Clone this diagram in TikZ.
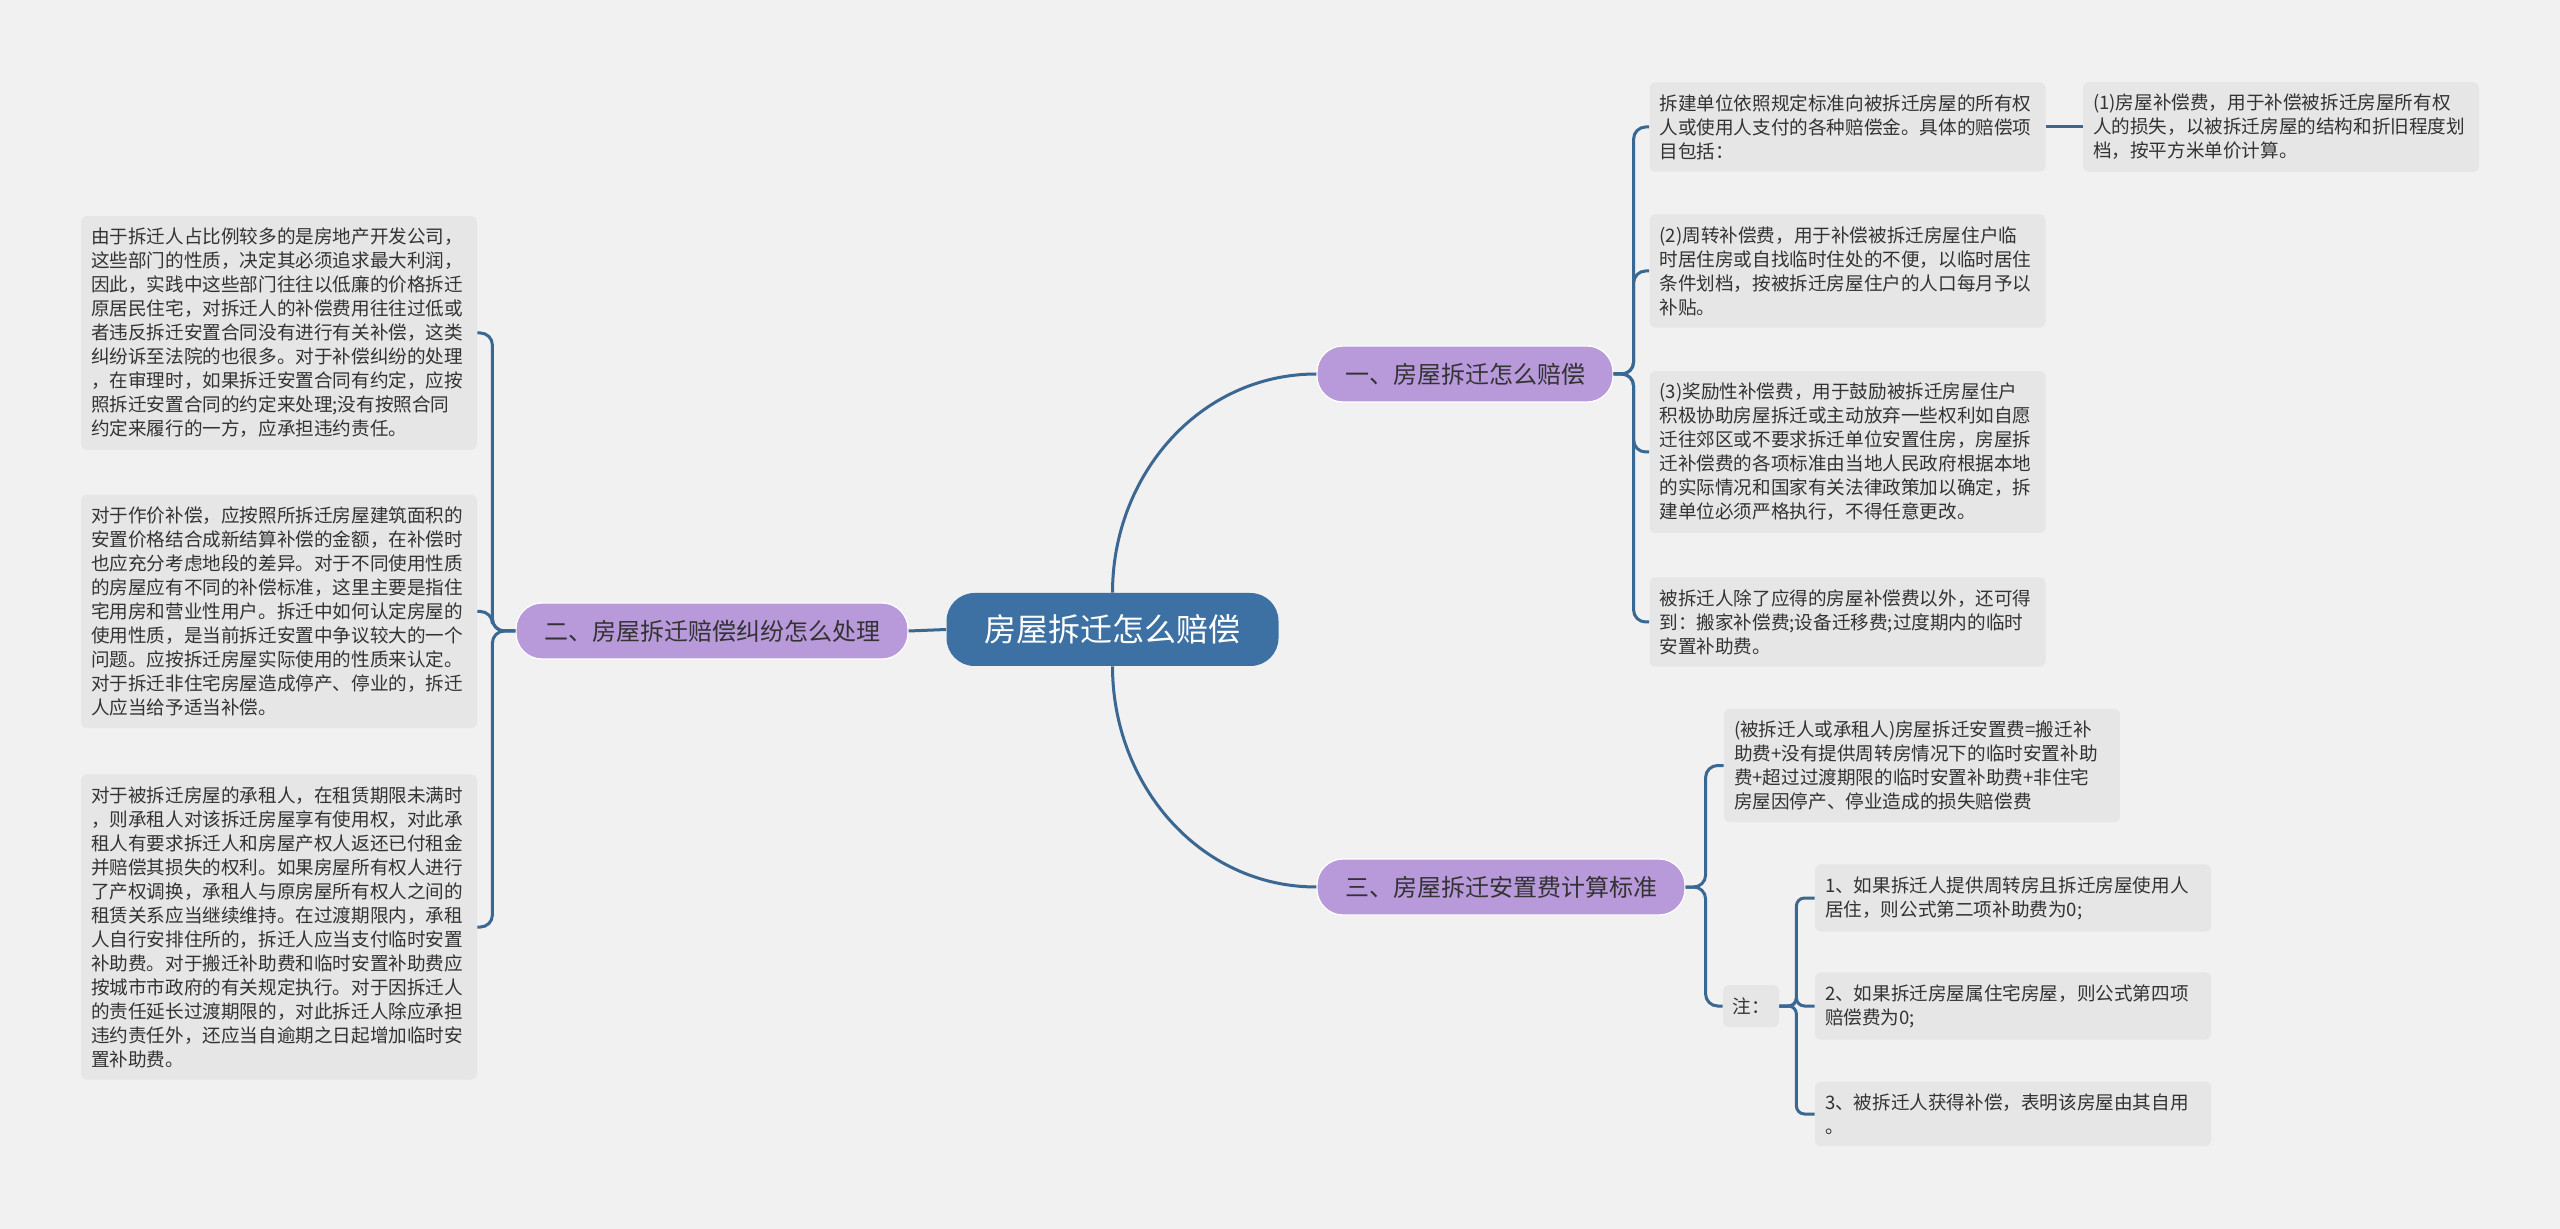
\documentclass[tikz,border=0pt]{standalone}
\usepackage{fontspec}
\setmainfont{Noto Sans CJK SC}
\usetikzlibrary{positioning}
\usepackage{xcolor}
\definecolor{bg}{HTML}{F1F1F1}
\definecolor{rootblue}{HTML}{3E71A3}
\definecolor{topicpurple}{HTML}{B899DA}
\definecolor{leafgray}{HTML}{E6E6E6}
\definecolor{linkblue}{HTML}{3A6893}
\definecolor{txt}{HTML}{333333}
\tikzset{
  root/.style     = {rectangle, rounded corners=14pt, fill=rootblue, text=white,
                     font=\fontsize{16}{19}\selectfont, inner xsep=19pt,
                     minimum height=36.5pt},
  topic/.style    = {rectangle, rounded corners=13pt, fill=topicpurple, draw=white,
                     line width=0.6pt, text=txt, font=\fontsize{12}{14}\selectfont,
                     inner xsep=14pt, minimum height=28pt},
  leaf/.style     = {rectangle, rounded corners=3pt, fill=leafgray, text=txt,
                     align=left, text width=188pt, inner xsep=5pt, inner ysep=6pt,
                     font=\fontsize{9.3}{12}\selectfont},
  notebox/.style  = {rectangle, rounded corners=3pt, fill=leafgray, text=txt,
                     font=\fontsize{9.3}{12}\selectfont, minimum width=28pt,
                     minimum height=21pt},
  link/.style     = {draw=linkblue, line width=1.5pt},
}

\begin{document}
\begin{tikzpicture}[x=0.5pt, y=-0.5pt]
    \fill[bg] (0,0) rectangle (2560,1229);

    \node[root] (c) at (1112.5,629.5) {房屋拆迁怎么赔偿};
    \node[topic] (b1) at (1465,374) {一、房屋拆迁怎么赔偿};
    \node[topic] (b2) at (712,631) {二、房屋拆迁赔偿纠纷怎么处理};
    \node[topic] (b3) at (1501,887) {三、房屋拆迁安置费计算标准};

    \node[leaf] (l1) at (279,333)
      {由于拆迁人占比例较多的是房地产开发公司，\\这些部门的性质，决定其必须追求最大利润，\\因此，实践中这些部门往往以低廉的价格拆迁\\原居民住宅，对拆迁人的补偿费用往往过低或\\者违反拆迁安置合同没有进行有关补偿，这类\\纠纷诉至法院的也很多。对于补偿纠纷的处理\\，在审理时，如果拆迁安置合同有约定，应按\\照拆迁安置合同的约定来处理;没有按照合同\\约定来履行的一方，应承担违约责任。};
    \node[leaf] (l2) at (279,611.5)
      {对于作价补偿，应按照所拆迁房屋建筑面积的\\安置价格结合成新结算补偿的金额，在补偿时\\也应充分考虑地段的差异。对于不同使用性质\\的房屋应有不同的补偿标准，这里主要是指住\\宅用房和营业性用户。拆迁中如何认定房屋的\\使用性质，是当前拆迁安置中争议较大的一个\\问题。应按拆迁房屋实际使用的性质来认定。\\对于拆迁非住宅房屋造成停产、停业的，拆迁\\人应当给予适当补偿。};
    \node[leaf] (l3) at (279,927)
      {对于被拆迁房屋的承租人，在租赁期限未满时\\，则承租人对该拆迁房屋享有使用权，对此承\\租人有要求拆迁人和房屋产权人返还已付租金\\并赔偿其损失的权利。如果房屋所有权人进行\\了产权调换，承租人与原房屋所有权人之间的\\租赁关系应当继续维持。在过渡期限内，承租\\人自行安排住所的，拆迁人应当支付临时安置\\补助费。对于搬迁补助费和临时安置补助费应\\按城市市政府的有关规定执行。对于因拆迁人\\的责任延长过渡期限的，对此拆迁人除应承担\\违约责任外，还应当自逾期之日起增加临时安\\置补助费。};

    \node[leaf] (r1) at (1847.5,127)
      {拆建单位依照规定标准向被拆迁房屋的所有权\\人或使用人支付的各种赔偿金。具体的赔偿项\\目包括：};
    \node[leaf] (r1a) at (2281,127)
      {(1)房屋补偿费，用于补偿被拆迁房屋所有权\\人的损失，以被拆迁房屋的结构和折旧程度划\\档，按平方米单价计算。};
    \node[leaf] (r2) at (1847.5,271)
      {(2)周转补偿费，用于补偿被拆迁房屋住户临\\时居住房或自找临时住处的不便，以临时居住\\条件划档，按被拆迁房屋住户的人口每月予以\\补贴。};
    \node[leaf] (r3) at (1847.5,452)
      {(3)奖励性补偿费，用于鼓励被拆迁房屋住户\\积极协助房屋拆迁或主动放弃一些权利如自愿\\迁往郊区或不要求拆迁单位安置住房，房屋拆\\迁补偿费的各项标准由当地人民政府根据本地\\的实际情况和国家有关法律政策加以确定，拆\\建单位必须严格执行，不得任意更改。};
    \node[leaf] (r4) at (1847.5,622)
      {被拆迁人除了应得的房屋补偿费以外，还可得\\到：搬家补偿费;设备迁移费;过度期内的临时\\安置补助费。};

    \node[leaf] (r5) at (1922,765.5)
      {(被拆迁人或承租人)房屋拆迁安置费=搬迁补\\助费+没有提供周转房情况下的临时安置补助\\费+超过过渡期限的临时安置补助费+非住宅\\房屋因停产、停业造成的损失赔偿费};
    \node[notebox] (zhu) at (1751,1006) {注：};
    \node[leaf] (n1) at (2013,898)
      {1、如果拆迁人提供周转房且拆迁房屋使用人\\居住，则公式第二项补助费为0;};
    \node[leaf] (n2) at (2013,1006)
      {2、如果拆迁房屋属住宅房屋，则公式第四项\\赔偿费为0;};
    \node[leaf] (n3) at (2013,1114)
      {3、被拆迁人获得补偿，表明该房屋由其自用\\。};

    \draw[link] (c.north) to[out=90, in=180] (b1.west);
    \draw[link] (c.west) -- (b2.east);
    \draw[link] (c.south) to[out=-90, in=180] (b3.west);

    \foreach \n in {l1,l2,l3}
      \draw[link, rounded corners=6pt] (b2.west) -- ++(-23,0) |- (\n.east);
    \foreach \n in {r1,r2,r3,r4}
      \draw[link, rounded corners=6pt] (b1.east) -- ++(20,0) |- (\n.west);
    \draw[link] (r1.east) -- (r1a.west);
    \foreach \n in {r5,zhu}
      \draw[link, rounded corners=6pt] (b3.east) -- ++(20,0) |- (\n.west);
    \foreach \n in {n1,n2,n3}
      \draw[link, rounded corners=4pt] (zhu.east) -- ++(17,0) |- (\n.west);
\end{tikzpicture}
\end{document}
